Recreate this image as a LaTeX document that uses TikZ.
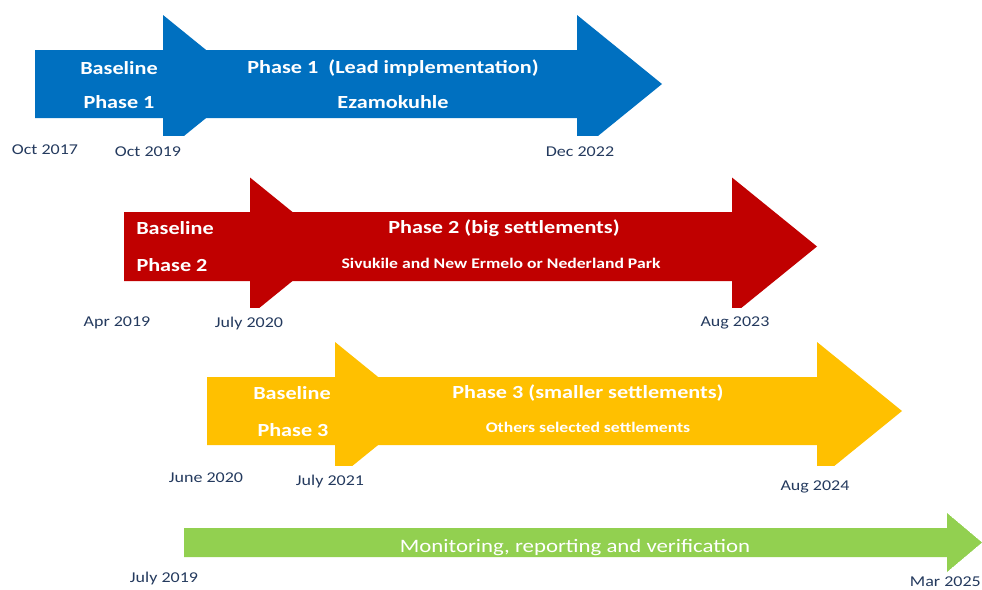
\documentclass[tikz,border=0pt]{standalone}
\usepackage{fontspec}
\setmainfont{Carlito}[FakeStretch=1.2]
\definecolor{pblue}{HTML}{0070C0}
\definecolor{pred}{HTML}{C00000}
\definecolor{pyellow}{HTML}{FFC000}
\definecolor{pgreen}{HTML}{92D050}
\definecolor{datecol}{HTML}{243A5E}
\tikzset{
  head/.style={text=white,font=\bfseries\fontsize{18.5}{18.5}\selectfont,inner sep=0pt},
  sub/.style={text=white,font=\bfseries\fontsize{14.7}{14.7}\selectfont,inner sep=0pt},
  date/.style={text=datecol,font=\fontsize{15}{15}\selectfont,inner sep=0pt},
  mrv/.style={text=white,font=\fontsize{19}{19}\selectfont,inner sep=0pt}
}
\begin{document}
\begin{tikzpicture}[x=1pt,y=-1pt]
\useasboundingbox (0,0) rectangle (982,589);
% Blue
\begin{scope}
\clip (0,0) rectangle (982,135);
\fill[pblue] (35,50)--(163,50)--(163,15)--(248,84)--(163,153)--(163,118)--(35,118)--cycle;
\fill[pblue] (163,50)--(577,50)--(577,15)--(662,84)--(577,153)--(577,118)--(163,118)--cycle;
\end{scope}
% Red
\begin{scope}
\clip (0,0) rectangle (982,307);
\fill[pred] (124,212)--(250,212)--(250,177.5)--(335,246.5)--(250,315.5)--(250,281)--(124,281)--cycle;
\fill[pred] (250,212)--(732,212)--(732,177.5)--(817,246.5)--(732,315.5)--(732,281)--(250,281)--cycle;
\end{scope}
% Yellow
\begin{scope}
\clip (0,0) rectangle (982,465);
\fill[pyellow] (207,377)--(335,377)--(335,342)--(420,411)--(335,480)--(335,445)--(207,445)--cycle;
\fill[pyellow] (335,377)--(817,377)--(817,342)--(902,411)--(817,480)--(817,445)--(335,445)--cycle;
\end{scope}
% Green
\begin{scope}
\clip (184,528)--(947,528)--(947,513)--(982,542.5)--(947,572)--(947,557)--(184,557)--cycle;
\fill[pgreen] (184,528)--(947,528)--(947,513)--(982,542.5)--(947,572)--(947,557)--(184,557)--cycle;
\node[mrv,anchor=base] (mrv) at (575,552) {Monitoring, reporting and verification};
\end{scope}
% Texts blue
\node[head] (b1) at (119,68) {Baseline};
\node[head] (bp1) at (119,102) {Phase 1};
\node[head] (p1) at (393,68) {Phase 1\ \ (Lead implementation)};
\node[head] (p1s) at (393,102) {Ezamokuhle};
% Texts red
\node[head] (b2) at (175,228) {Baseline};
\node[head] (bp2) at (172,265) {Phase 2};
\node[head] (p2) at (504,228) {Phase 2 (big settlements)};
\node[sub] (p2s) at (501,263) {Sivukile and New Ermelo or Nederland Park};
% Texts yellow
\node[head] (b3) at (292,393) {Baseline};
\node[head] (bp3) at (293,430) {Phase 3};
\node[head] (p3) at (588,393) {Phase 3 (smaller settlements)};
\node[sub] (p3s) at (588,427) {Others selected settlements};
% Dates
\node[date] (d1) at (45,150) {Oct 2017};
\node[date] (d2) at (148,152) {Oct 2019};
\node[date] (d3) at (580,152) {Dec 2022};
\node[date] (d4) at (117,323) {Apr 2019};
\node[date] (d5) at (249,323) {July 2020};
\node[date] (d6) at (735,323) {Aug 2023};
\node[date] (d7) at (206,478) {June 2020};
\node[date] (d8) at (330,481) {July 2021};
\node[date] (d9) at (815,487) {Aug 2024};
\node[date] (d10) at (164,578) {July 2019};
\node[date,anchor=east] (d11) at (981,582) {Mar 2025};
\end{tikzpicture}
\end{document}
